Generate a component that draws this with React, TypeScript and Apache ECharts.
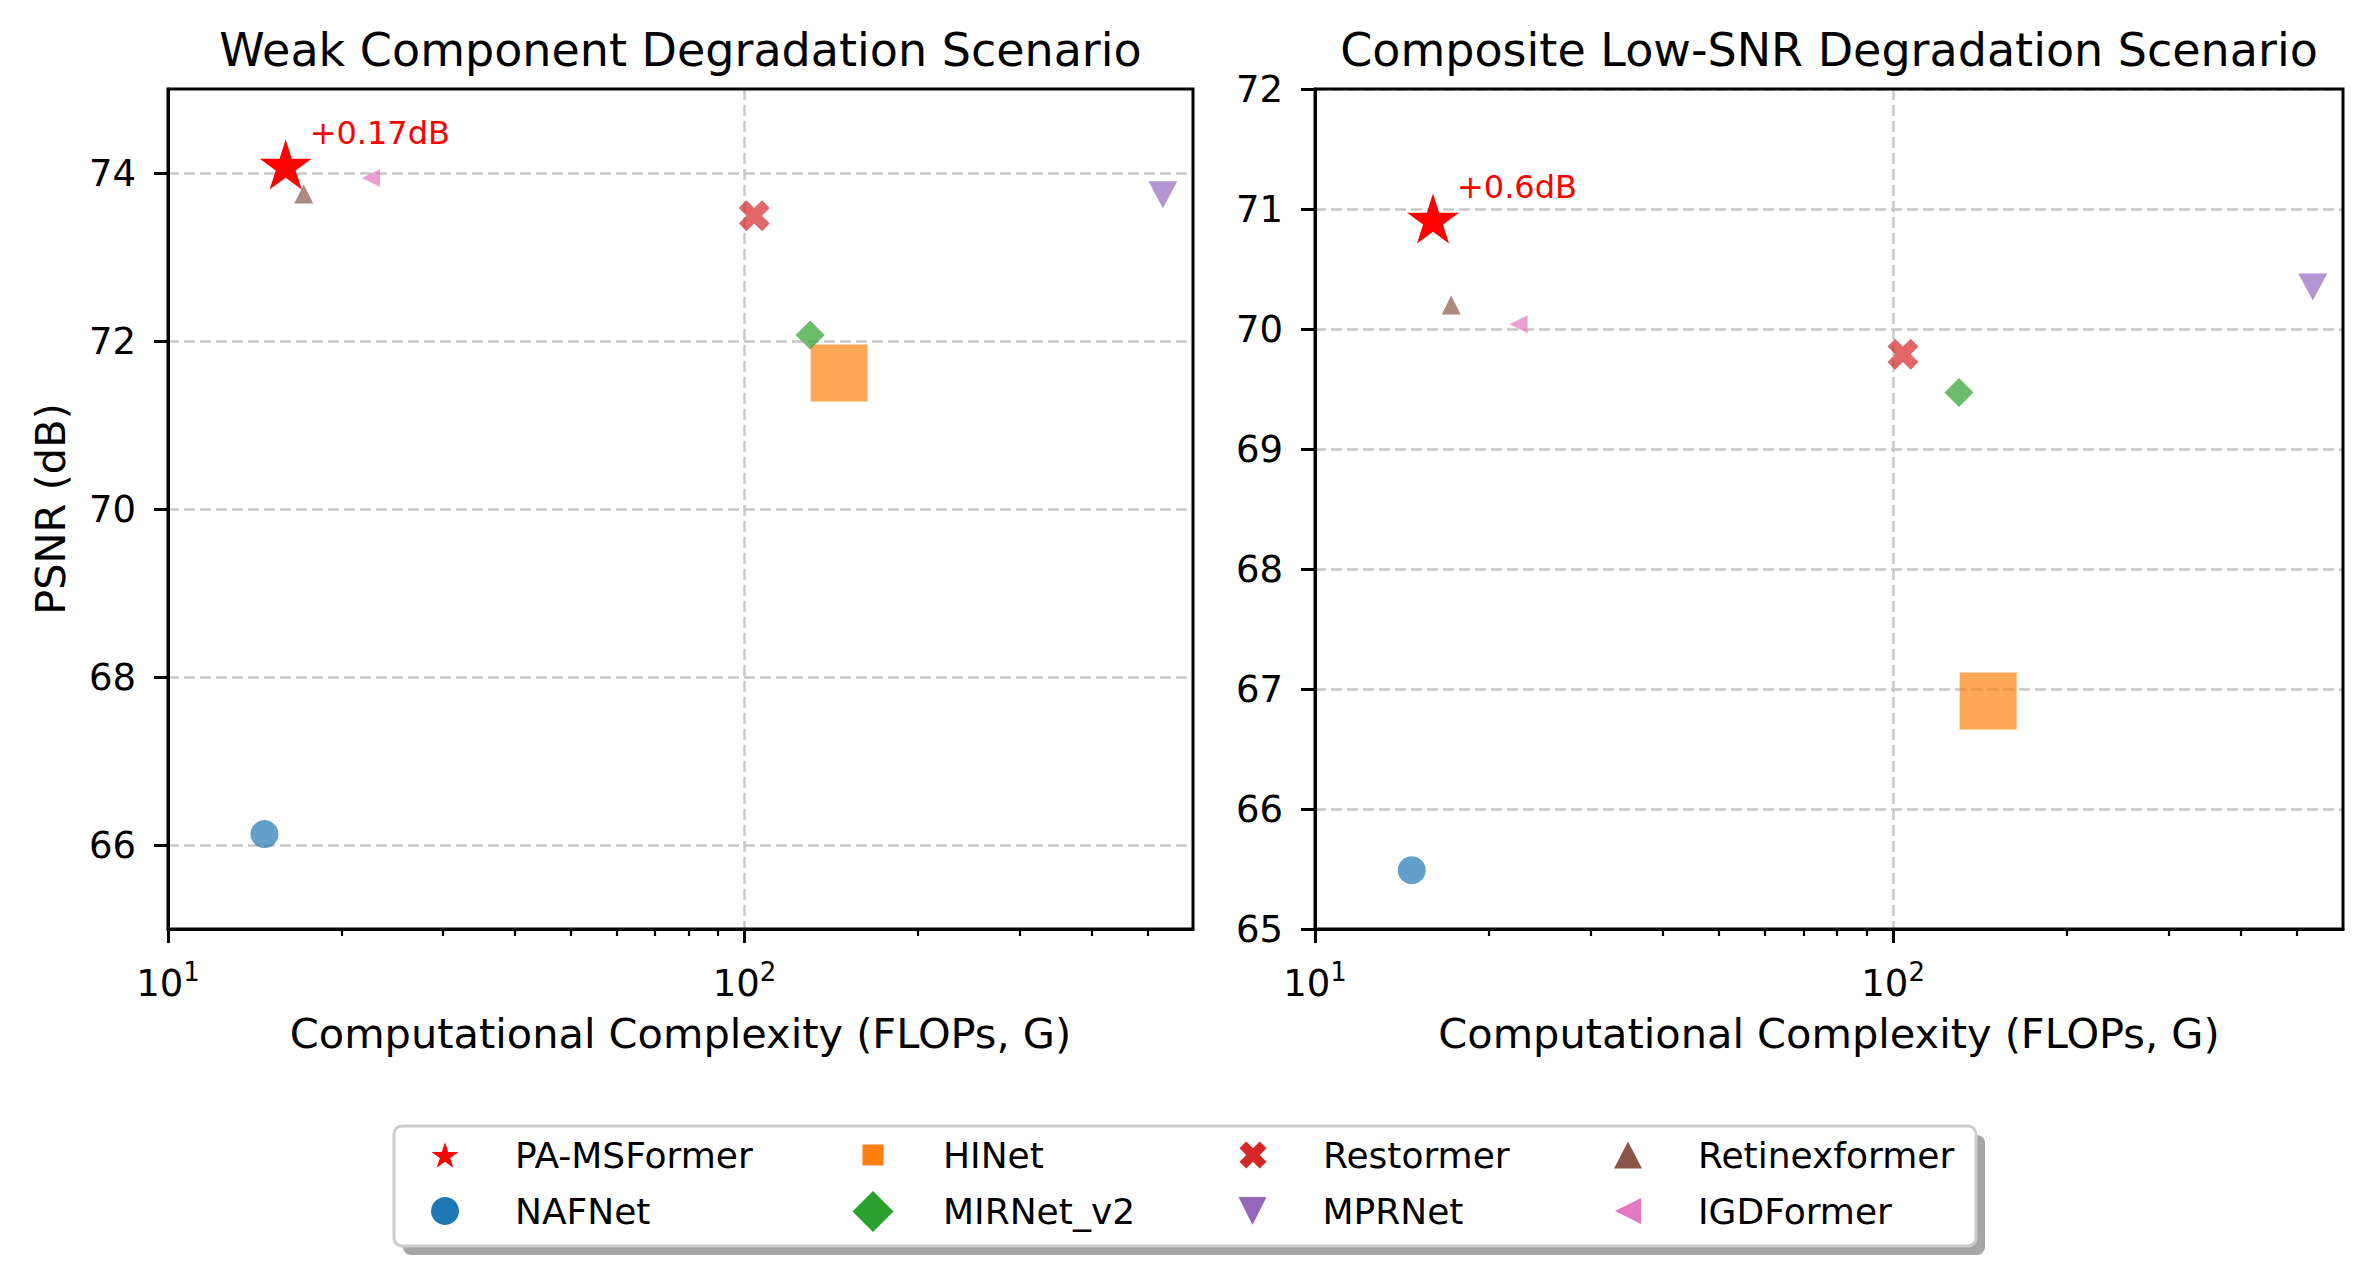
import React, { useEffect, useRef } from 'react';
import * as echarts from 'echarts';

// ---------------- data ----------------
const methods = ['PA-MSFormer', 'NAFNet', 'HINet', 'MIRNet_v2', 'Restormer', 'MPRNet', 'Retinexformer', 'IGDFormer'];
const flops = [16.0, 14.7, 146, 130, 104, 532, 17.2, 22.5];
const psnrWeak = [74.1, 66.13, 71.62, 72.07, 73.49, 73.74, 73.75, 73.94];
const psnrComposite = [70.92, 65.49, 66.9, 69.47, 69.79, 70.35, 70.2, 70.04];
const panelTitles = ['Weak Component Degradation Scenario', 'Composite Low-SNR Degradation Scenario'];
const gainLabels = ['+0.17dB', '+0.6dB'];
const xAxisName = 'Computational Complexity (FLOPs, G)';
const yAxisName = 'PSNR (dB)';
const xRange = [10, 600];
const xMajorTicks = [10, 100];
const xMinorTicks = [20, 30, 40, 50, 60, 70, 80, 90, 200, 300, 400, 500];
const yRangeWeak = [65, 75];
const yTicksWeak = [66, 68, 70, 72, 74];
const yRangeComposite = [65, 72];
const yTicksComposite = [65, 66, 67, 68, 69, 70, 71, 72];
const legendRows = [
  ['PA-MSFormer', 'HINet', 'Restormer', 'Retinexformer'],
  ['NAFNet', 'MIRNet_v2', 'MPRNet', 'IGDFormer'],
];

// ---------------- styles ----------------
const FONT = 'DejaVu Sans';
const STAR = 'path://M100,0L77.55,69.1L4.89,69.1L63.67,111.8L41.22,180.9L100,138.2L158.78,180.9L136.33,111.8L195.11,69.1L122.45,69.1Z';
const XMARK = 'path://M6,0L8,2L6,4L8,6L6,8L4,6L2,8L0,6L2,4L0,2L2,0L4,2Z';
const TRI_DOWN = 'path://M0,0L2,0L1,2Z';
const TRI_LEFT = 'path://M0,1L2,0L2,2Z';
const colors = ['#ff0000', '#1f77b4', '#ff7f0e', '#2ca02c', '#d62728', '#9467bd', '#8c564b', '#e377c2'];
const symbols = [STAR, 'circle', 'rect', 'diamond', XMARK, TRI_DOWN, 'triangle', TRI_LEFT];
const symbolSizes: any[] = [[52, 50], 28, 57, 29, 31, [29, 27], 19, [18, 18]];
const opacities = [1, 0.7, 0.7, 0.7, 0.7, 0.7, 0.7, 0.7];
const legendIconSizes: any[] = [[27, 26], [28, 28], [21, 21], [41, 41], [27, 27], [29, 28], [28, 27], [26, 27]];

const grids = [
  { left: 168, top: 89, width: 1025, height: 840 },
  { left: 1315, top: 89, width: 1028, height: 840 },
];
const legendColX = [445, 873, 1253, 1628];
const legendRowY = [1155, 1211];
const legendTextOffset = 70;

function buildOption() {
  const gridLine = { show: true, lineStyle: { color: '#c8c8c8', type: [11, 5] as any, width: 2.5 } };
  const xAxes: any[] = [];
  const yAxes: any[] = [];
  grids.forEach((g, gi) => {
    xAxes.push({
      type: 'log', logBase: 10, gridIndex: gi, min: xRange[0], max: xRange[1], position: 'bottom',
      name: xAxisName, nameLocation: 'middle', nameGap: 83,
      nameTextStyle: { fontSize: 41.5, fontFamily: FONT, color: '#000' },
      axisLine: { show: true, lineStyle: { color: '#000', width: 3 } },
      axisTick: { show: true, customValues: xMajorTicks, length: 14, lineStyle: { color: '#000', width: 3 } },
      axisLabel: {
        customValues: xMajorTicks, margin: 30, color: '#000',
        formatter: (v: number) => '{b|10}{s|' + Math.round(Math.log10(v)) + '}',
        rich: {
          b: { fontSize: 37, fontFamily: FONT, color: '#000' },
          s: { fontSize: 26, fontFamily: FONT, color: '#000', padding: [0, 0, 23, 0] },
        },
      },
      splitLine: gridLine,
      minorTick: { show: false },
    });
    xAxes.push({
      type: 'log', logBase: 10, gridIndex: gi, min: xRange[0], max: xRange[1], position: 'bottom', offset: 0,
      axisLine: { show: false },
      axisTick: { show: true, customValues: xMinorTicks, length: 7, lineStyle: { color: '#000', width: 2.2 } },
      axisLabel: { show: false },
      splitLine: { show: false },
    });
    const yr = gi === 0 ? yRangeWeak : yRangeComposite;
    const yt = gi === 0 ? yTicksWeak : yTicksComposite;
    yAxes.push({
      type: 'value', gridIndex: gi, min: yr[0], max: yr[1],
      name: gi === 0 ? yAxisName : '', nameLocation: 'middle', nameGap: 97, nameRotate: 90,
      nameTextStyle: { fontSize: 41.5, fontFamily: FONT, color: '#000' },
      axisLine: { show: true, lineStyle: { color: '#000', width: 3 } },
      axisTick: { show: true, customValues: yt, length: 14, lineStyle: { color: '#000', width: 3 } },
      axisLabel: { customValues: yt, margin: 32, fontSize: 37, fontFamily: FONT, color: '#000' },
      splitLine: gridLine,
    });
  });

  const series: any[] = [];
  [psnrWeak, psnrComposite].forEach((vals, gi) => {
    methods.forEach((m, i) => {
      series.push({
        type: 'scatter', name: m, xAxisIndex: gi * 2, yAxisIndex: gi,
        data: [[flops[i], vals[i]]],
        symbol: symbols[i], symbolSize: symbolSizes[i],
        itemStyle: { color: colors[i], opacity: opacities[i] },
        z: i === 0 ? 5 : 3,
        emphasis: { disabled: true },
        label: i === 0 ? {
          show: true, formatter: gainLabels[gi], position: 'right', distance: 0, offset: [-2, -32],
          color: '#ff0000', fontSize: 32, fontFamily: FONT,
        } : { show: false },
      });
    });
  });

  const legends: any[] = [];
  legendRows.forEach((row, r) => {
    row.forEach((name, c) => {
      const i = methods.indexOf(name);
      const [w, h] = legendIconSizes[i];
      legends.push({
        data: [{ name, itemStyle: { opacity: 1 } }],
        left: legendColX[c] - w / 2, top: legendRowY[r] - 20,
        padding: 0, itemGap: 0, itemWidth: w, itemHeight: h, selectedMode: false,
        textStyle: { fontSize: 36, fontFamily: FONT, color: '#000', lineHeight: 40, padding: [0, 0, 0, legendTextOffset - 5 - w / 2] },
      });
    });
  });

  const titles = panelTitles.map((t, gi) => ({
    text: t, left: grids[gi].left + grids[gi].width / 2, top: 27, textAlign: 'center', padding: 0,
    textStyle: { fontSize: 46, fontWeight: 'normal', fontFamily: FONT, color: '#000' },
  }));

  return {
    animation: false,
    backgroundColor: '#ffffff',
    title: titles,
    grid: grids.map((g) => ({ ...g, show: true, z: 3, borderColor: '#000', borderWidth: 3, backgroundColor: 'transparent' })),
    xAxis: xAxes,
    yAxis: yAxes,
    legend: legends,
    series,
    graphic: [
      { type: 'rect', shape: { x: 403, y: 1135, width: 1582, height: 120, r: 8 }, style: { fill: '#a6a6a6' }, z: 0 },
      { type: 'rect', shape: { x: 394, y: 1126, width: 1582, height: 120, r: 8 }, style: { fill: '#ffffff', stroke: '#cccccc', lineWidth: 3 }, z: 1 },
    ],
  };
}

export default function App() {
  const ref = useRef<HTMLDivElement>(null);
  useEffect(() => {
    if (!ref.current) return;
    const chart = echarts.init(ref.current, undefined, { renderer: 'svg' });
    chart.setOption(buildOption() as any);
    return () => chart.dispose();
  }, []);
  return <div ref={ref} style={{ position: 'absolute', left: 0, top: 0, width: 2369, height: 1278 }} />;
}
